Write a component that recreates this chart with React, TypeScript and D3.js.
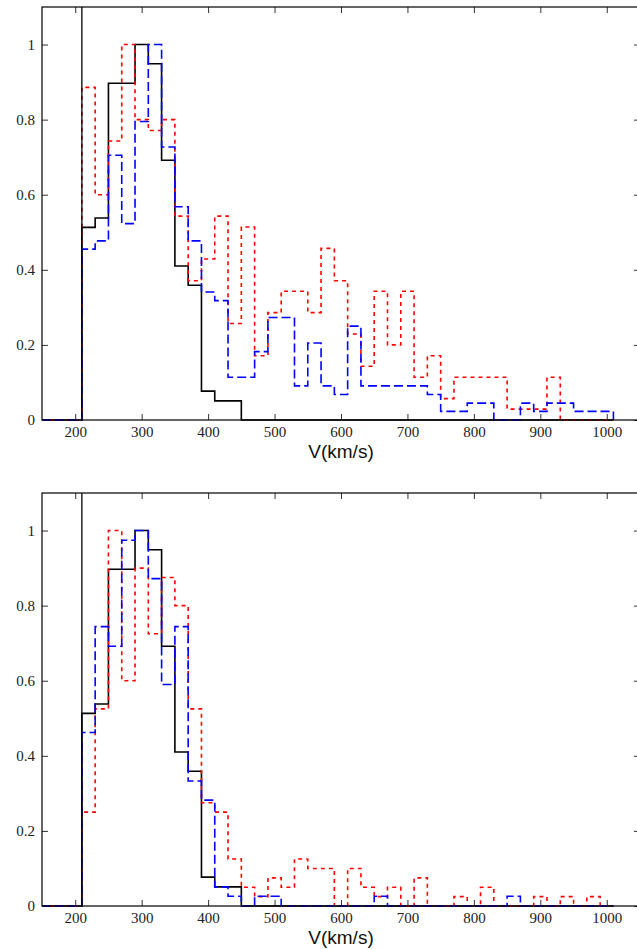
import { useEffect, useRef } from 'react'
import * as d3 from 'd3'

// left edges of the 20 km/s bins
const binLefts = [210, 230, 250, 270, 290, 310, 330, 350, 370, 390, 410, 430, 450, 470, 490, 510, 530, 550, 570, 590,
  610, 630, 650, 670, 690, 710, 730, 750, 770, 790, 810, 830, 850, 870, 890, 910, 930, 950, 970, 990]
const binWidth = 20
const startV = 150
const thresholdV = 210

const xTicks = [200, 300, 400, 500, 600, 700, 800, 900, 1000]
const yTicks = [0, 0.2, 0.4, 0.6, 0.8, 1]
const xLabel = 'V(km/s)'

// top panel
const blackTop = [0.513, 0.538, 0.897, 0.897, 1, 0.949, 0.692, 0.41, 0.359, 0.077, 0.051, 0.051, 0, 0, 0, 0, 0, 0, 0, 0,
  0, 0, 0, 0, 0, 0, 0, 0, 0, 0, 0, 0, 0, 0, 0, 0, 0, 0, 0, 0]
const blueTop = [0.455, 0.477, 0.705, 0.523, 0.795, 1, 0.727, 0.568, 0.477, 0.341, 0.318, 0.114, 0.114, 0.182, 0.273, 0.273, 0.091, 0.205, 0.091, 0.068,
  0.25, 0.091, 0.091, 0.091, 0.091, 0.091, 0.068, 0.023, 0.023, 0.045, 0.045, 0, 0, 0.045, 0.023, 0.045, 0.045, 0.023, 0.023, 0.023]
const redTop = [0.886, 0.6, 0.743, 1, 0.8, 0.771, 0.8, 0.543, 0.371, 0.429, 0.543, 0.257, 0.514, 0.171, 0.286, 0.343, 0.343, 0.286, 0.457, 0.371,
  0.229, 0.143, 0.343, 0.2, 0.343, 0.114, 0.171, 0.057, 0.114, 0.114, 0.114, 0.114, 0.029, 0.029, 0.029, 0.114, 0, 0, 0, 0]

// bottom panel
const blackBottom = [0.513, 0.538, 0.897, 0.897, 1, 0.949, 0.692, 0.41, 0.359, 0.077, 0.051, 0.051, 0, 0, 0, 0, 0, 0, 0, 0,
  0, 0, 0, 0, 0, 0, 0, 0, 0, 0, 0, 0, 0, 0, 0, 0, 0, 0, 0, 0]
const blueBottom = [0.462, 0.744, 0.692, 0.974, 1, 0.872, 0.59, 0.744, 0.333, 0.282, 0.051, 0.026, 0, 0.026, 0.026, 0, 0, 0, 0, 0,
  0, 0, 0.026, 0, 0, 0, 0, 0, 0, 0, 0, 0, 0.026, 0, 0, 0, 0, 0, 0, 0]
const redBottom = [0.25, 0.525, 1, 0.6, 0.9, 0.725, 0.875, 0.8, 0.525, 0.275, 0.25, 0.125, 0.05, 0.025, 0.075, 0.05, 0.125, 0.1, 0.1, 0,
  0.1, 0.05, 0.025, 0.05, 0, 0.075, 0, 0, 0.025, 0, 0.05, 0, 0, 0, 0.025, 0, 0.025, 0, 0.025, 0]

const W = 637
const H = 949

export default function App() {
  const ref = useRef<SVGSVGElement>(null)

  useEffect(() => {
    const svg = d3.select(ref.current)
    svg.selectAll('*').remove()

    const panels = [
      { top: 7, bottom: 420, series: [blackTop, redTop, blueTop] },
      { top: 493, bottom: 906, series: [blackBottom, redBottom, blueBottom] },
    ]
    const styles = [
      { color: '#000', dash: null, width: 1.6 },
      { color: '#ff0000', dash: '4,4', width: 1.6 },
      { color: '#0000ff', dash: '9,4', width: 1.6 },
    ]

    const x = d3.scaleLinear().domain([150, 1050]).range([42, 640])

    panels.forEach(p => {
      const y = d3.scaleLinear().domain([0, 1.1]).range([p.bottom, p.top])
      const g = svg.append('g')

      const xb = g.append('g').attr('transform', `translate(0,${p.bottom})`)
        .call(d3.axisBottom(x).tickValues(xTicks).tickSizeInner(-6).tickSizeOuter(0).tickPadding(6).tickFormat(d3.format('d')))
      const xt = g.append('g').attr('transform', `translate(0,${p.top})`)
        .call(d3.axisTop(x).tickValues(xTicks).tickSizeInner(-6).tickSizeOuter(0).tickFormat(() => ''))
      const yl = g.append('g').attr('transform', `translate(42,0)`)
        .call(d3.axisLeft(y).tickValues(yTicks).tickSizeInner(-6).tickSizeOuter(0).tickPadding(7).tickFormat(d3.format('')))
      const yr = g.append('g').attr('transform', `translate(640,0)`)
        .call(d3.axisRight(y).tickValues(yTicks).tickSizeInner(-6).tickSizeOuter(0).tickFormat(() => ''))

      ;[xb, xt, yl, yr].forEach(a => {
        a.select('.domain').remove()
        a.selectAll('line').attr('stroke', '#333')
        a.selectAll('text')
          .attr('font-family', '"Liberation Serif", "Times New Roman", serif')
          .attr('font-size', 15)
          .attr('fill', '#222')
      })

      // histograms
      p.series.forEach((vals, i) => {
        const pts: [number, number][] = [[startV, 0]]
        binLefts.forEach((b, j) => pts.push([b, vals[j]]))
        pts.push([binLefts[binLefts.length - 1] + binWidth, 0])
        const line = d3.line<[number, number]>()
          .curve(d3.curveStepAfter)
          .x(d => x(d[0]))
          .y(d => y(d[1]))
        const s = styles[i]
        g.append('path')
          .attr('d', line(pts))
          .attr('fill', 'none')
          .attr('stroke', s.color)
          .attr('stroke-width', s.width)
          .attr('stroke-dasharray', s.dash)
      })

      // threshold line
      g.append('line')
        .attr('x1', x(thresholdV)).attr('x2', x(thresholdV))
        .attr('y1', y(0)).attr('y2', p.top)
        .attr('stroke', '#000')
        .attr('stroke-width', 1.3)

      // frame
      g.append('rect')
        .attr('x', 42).attr('y', p.top)
        .attr('width', 598).attr('height', p.bottom - p.top)
        .attr('fill', 'none')
        .attr('stroke', '#000')
        .attr('stroke-width', 1.2)

      g.append('text')
        .attr('x', x(600))
        .attr('y', p.bottom + 38)
        .attr('text-anchor', 'middle')
        .attr('font-family', '"Liberation Sans", Arial, sans-serif')
        .attr('font-size', 19)
        .attr('fill', '#111')
        .text(xLabel)
    })
  }, [])

  return (
    <svg ref={ref} width={W} height={H}
      style={{ position: 'absolute', left: 0, top: 0, background: '#fff' }} />
  )
}
